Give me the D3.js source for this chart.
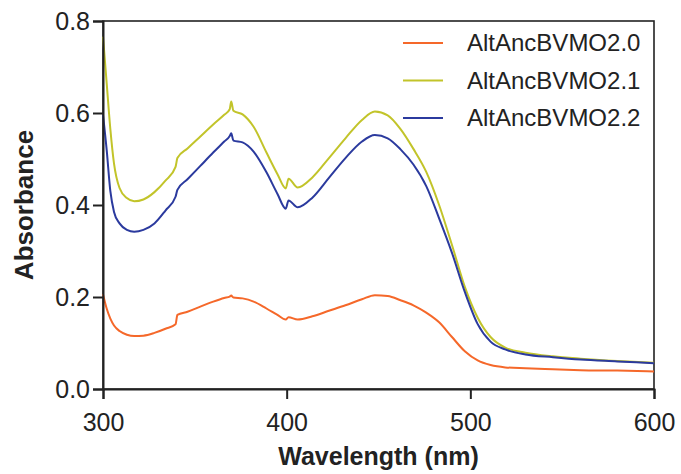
<!DOCTYPE html>
<html>
<head>
<meta charset="utf-8">
<script src="https://cdn.jsdelivr.net/npm/d3@7"></script>
<style>
  body { margin: 0; background: #fff; }
  svg { display: block; font-family: "Liberation Sans", Arial, Helvetica, sans-serif; }
</style>
</head>
<body>
<script>
/* Data */
var wavelengths = [300, 302, 304, 306, 309, 313, 317, 322, 328, 334, 339.5, 340.5, 346, 353, 360, 366, 369, 369.8, 371, 376,
  382, 389, 395, 399.5, 401, 406, 414, 423, 432, 441, 448, 455, 462, 469, 476, 483, 490, 497, 504, 511,
  519, 530, 545, 560, 580, 600];

var alt20 = [0.206, 0.175, 0.153, 0.138, 0.126, 0.118, 0.115, 0.116, 0.122, 0.131, 0.141, 0.161, 0.168, 0.179, 0.190, 0.198, 0.201, 0.203, 0.199, 0.197,
  0.190, 0.175, 0.161, 0.151, 0.156, 0.151, 0.158, 0.170, 0.182, 0.195, 0.204, 0.202, 0.193, 0.182, 0.166, 0.145, 0.113, 0.082, 0.062, 0.052,
  0.047, 0.045, 0.043, 0.041, 0.040, 0.038];

var alt21 = [0.766, 0.665, 0.565, 0.490, 0.437, 0.415, 0.408, 0.412, 0.428, 0.453, 0.483, 0.502, 0.523, 0.549, 0.575, 0.596, 0.608, 0.625, 0.605, 0.597,
  0.570, 0.514, 0.467, 0.436, 0.457, 0.438, 0.460, 0.502, 0.545, 0.585, 0.603, 0.595, 0.565, 0.522, 0.472, 0.400, 0.313, 0.222, 0.155, 0.113,
  0.090, 0.079, 0.071, 0.066, 0.061, 0.057];

var alt22 = [0.596, 0.520, 0.430, 0.385, 0.360, 0.346, 0.342, 0.346, 0.360, 0.388, 0.418, 0.433, 0.456, 0.485, 0.514, 0.538, 0.550, 0.556, 0.540, 0.536,
  0.516, 0.471, 0.424, 0.392, 0.410, 0.395, 0.416, 0.459, 0.502, 0.538, 0.552, 0.545, 0.521, 0.488, 0.441, 0.371, 0.296, 0.211, 0.141, 0.103,
  0.086, 0.075, 0.069, 0.064, 0.060, 0.056];

var seriesNames = ["AltAncBVMO2.0", "AltAncBVMO2.1", "AltAncBVMO2.2"];
var seriesColors = ["#f5682a", "#c2c42a", "#2b3a9e"];
var xTicks = [300, 400, 500, 600];
var yTicks = [0.0, 0.2, 0.4, 0.6, 0.8];

/* Display setup */
var width = 681, height = 474,
    margin = {top: 21, right: 27, bottom: 85, left: 103},
    plot = {width: width - margin.left - margin.right, height: height - margin.top - margin.bottom};

var svg = d3.select("body").append("svg")
    .attr("width", width)
    .attr("height", height);

var g = svg.append("g").attr("transform", "translate(" + margin.left + "," + margin.top + ")");

var x = d3.scaleLinear().domain([300, 600]).range([0, plot.width]),
    y = d3.scaleLinear().domain([0, 0.8]).range([plot.height, 0]);

// frame
g.append("rect")
    .attr("width", plot.width)
    .attr("height", plot.height)
    .style("fill", "none")
    .style("stroke", "#222")
    .style("stroke-width", 1.6);

// spectra
var line = d3.line()
    .x(function(d) { return x(d[0]); })
    .y(function(d) { return y(d[1]); })
    .curve(d3.curveMonotoneX);

[alt20, alt21, alt22].forEach(function(vals, i) {
  g.append("path")
      .datum(wavelengths.map(function(w, j) { return [w, vals[j]]; }))
      .attr("d", line)
      .style("fill", "none")
      .style("stroke", seriesColors[i])
      .style("stroke-width", 2)
      .style("stroke-linejoin", "round");
});

// axes
var xAxis = g.append("g")
    .attr("transform", "translate(0," + plot.height + ")")
    .call(d3.axisBottom(x).tickValues(xTicks).tickSize(10).tickPadding(14).tickFormat(d3.format("d")));

var yAxis = g.append("g")
    .call(d3.axisLeft(y).tickValues(yTicks).tickSize(10).tickPadding(3).tickFormat(d3.format(".1f")));

[xAxis, yAxis].forEach(function(ax) {
  ax.select(".domain").style("stroke", "#222").style("stroke-width", 2);
  ax.selectAll(".tick line").style("stroke", "#222").style("stroke-width", 2);
  ax.selectAll(".tick text")
      .style("font-family", "'Liberation Sans', Arial, sans-serif")
      .style("font-size", "25px")
      .style("fill", "#222");
});

// axis titles
svg.append("text")
    .attr("x", margin.left + plot.width / 2)
    .attr("y", 465)
    .attr("text-anchor", "middle")
    .style("font-size", "25px")
    .style("font-weight", "bold")
    .style("fill", "#222")
    .text("Wavelength (nm)");

svg.append("text")
    .attr("transform", "translate(33," + (margin.top + plot.height / 2) + ") rotate(-90)")
    .attr("text-anchor", "middle")
    .style("font-size", "26px")
    .style("font-weight", "bold")
    .style("fill", "#222")
    .text("Absorbance");

// legend
var legend = svg.append("g").attr("transform", "translate(403,43)");
var item = legend.selectAll("g")
    .data(seriesNames)
    .enter().append("g")
      .attr("transform", function(d, i) { return "translate(0," + (i * 37.5) + ")"; });

item.append("line")
    .attr("x1", 0).attr("x2", 40)
    .style("stroke", function(d, i) { return seriesColors[i]; })
    .style("stroke-width", 2);

item.append("text")
    .attr("x", 64)
    .attr("dy", "0.35em")
    .style("font-size", "24px")
    .style("fill", "#222")
    .text(function(d) { return d; });
</script>
</body>
</html>
